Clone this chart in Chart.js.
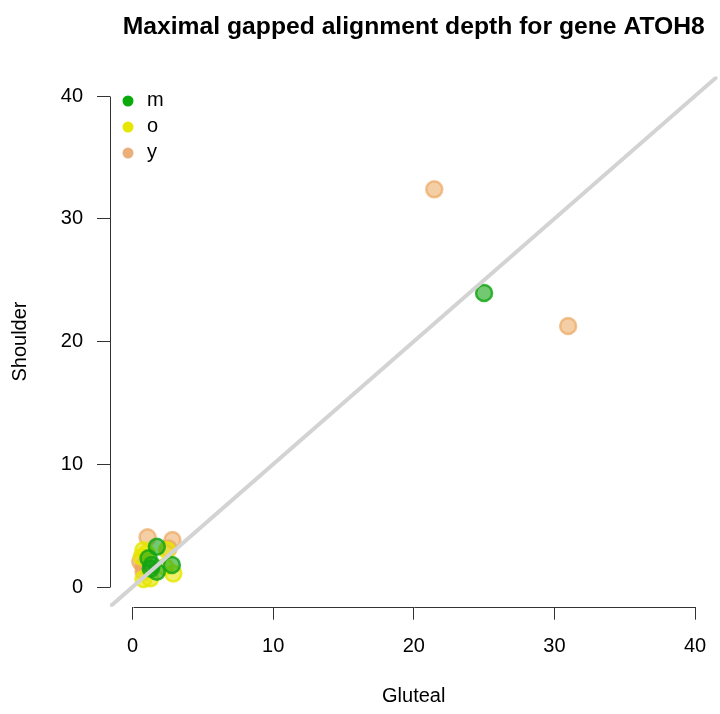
<!DOCTYPE html>
<html>
<head>
<meta charset="utf-8">
<script src="https://cdn.jsdelivr.net/npm/chart.js@4.4.1/dist/chart.umd.min.js"></script>
<style>
html,body{margin:0;padding:0;background:#fff;}
#wrap{width:720px;height:714px;}
</style>
</head>
<body>
<div id="wrap"><canvas id="c" width="720" height="714"></canvas></div>
<script>
// ---- data ----
const groups = ["m", "o", "y"];
const mGluteal   = [25.0, 1.73, 1.14, 1.37, 2.8, 1.73, 1.3];
const mShoulder  = [23.95, 3.28, 2.34, 1.79, 1.8, 1.25, 1.5];
const oGluteal   = [0.78, 0.66, 2.9, 2.32, 0.78, 1.26, 1.0, 2.45];
const oShoulder  = [3.0, 2.47, 1.1, 1.65, 0.65, 0.71, 2.75, 3.0];
const yGluteal   = [21.46, 30.98, 1.07, 2.84, 2.56, 0.55, 0.78, 0.78];
const yShoulder  = [32.4, 21.26, 4.05, 3.83, 3.15, 2.06, 1.25, 1.7];
const tickValues = [0, 10, 20, 30, 40];
const identityLine = [-5, 50];
const titleText = "Maximal gapped alignment depth for gene ATOH8";
const xTitle = "Gluteal";
const yTitle = "Shoulder";

const legendColors = ["rgb(10,170,10)", "rgb(230,230,0)", "rgb(235,176,122)"];
const fillColors = ["rgba(20,165,20,0.6)", "rgba(230,230,0,0.6)", "rgba(235,165,90,0.55)"];
const borderColors = ["rgba(20,165,20,0.82)", "rgba(230,230,0,0.8)", "rgba(235,165,90,0.65)"];

const pts = (xs, ys) => xs.map((x, i) => ({x: x, y: ys[i]}));
const FONT = "'Liberation Sans', Arial, Helvetica, sans-serif";

const axisLines = {
  id: 'axisLines',
  afterDraw(chart) {
    const ctx = chart.ctx, xs = chart.scales.x, ys = chart.scales.y, ca = chart.chartArea;
    ctx.save();
    ctx.strokeStyle = '#333';
    ctx.lineWidth = 1;
    const first = tickValues[0], last = tickValues[tickValues.length - 1];
    const yb = Math.round(ca.bottom) + 0.5;
    ctx.beginPath();
    ctx.moveTo(Math.round(xs.getPixelForValue(first)) + 0.5, yb);
    ctx.lineTo(Math.round(xs.getPixelForValue(last)) + 0.5, yb);
    ctx.stroke();
    const xl = Math.round(ca.left) + 0.5;
    ctx.beginPath();
    ctx.moveTo(xl, Math.round(ys.getPixelForValue(first)) + 0.5);
    ctx.lineTo(xl, Math.round(ys.getPixelForValue(last)) + 0.5);
    ctx.stroke();
    // title
    ctx.fillStyle = '#000';
    ctx.font = "bold 24.7px " + FONT;
    ctx.textAlign = 'center';
    ctx.textBaseline = 'alphabetic';
    ctx.fillText(titleText, (ca.left + ca.right) / 2, 34);
    // legend
    ctx.font = "20px " + FONT;
    ctx.textAlign = 'left';
    ctx.textBaseline = 'middle';
    groups.forEach((g, i) => {
      const cy = 101 + i * 26;
      ctx.beginPath();
      ctx.arc(128, cy, 5.5, 0, Math.PI * 2);
      ctx.fillStyle = legendColors[i];
      ctx.fill();
      ctx.fillStyle = '#000';
      ctx.fillText(g, 147, cy - 1);
    });
    ctx.restore();
  }
};

const scaleCommon = (titleTxt, padTitle) => ({
  type: 'linear',
  min: -1.6,
  max: 41.6,
  afterBuildTicks(s) { s.ticks = tickValues.map(v => ({value: v})); },
  grid: { drawOnChartArea: false, drawTicks: true, tickLength: 13, color: '#333', lineWidth: 1 },
  border: { display: false },
  ticks: { color: '#000', font: { family: FONT, size: 20 }, padding: 15, maxRotation: 0, autoSkip: false,
           callback: v => String(v) },
  title: { display: true, text: titleTxt, color: '#000', font: { family: FONT, size: 20 }, padding: padTitle }
});

const xScale = scaleCommon(xTitle, {top: 0, bottom: 6});
xScale.afterFit = s => { s.height = 107.3; s.paddingLeft = 0; s.paddingRight = 0; };
const yScale = scaleCommon(yTitle, {top: 8, bottom: 0});
yScale.ticks.padding = 14;
yScale.afterFit = s => { s.width = 110; s.paddingTop = 0; s.paddingBottom = 0; };

new Chart(document.getElementById('c'), {
  type: 'scatter',
  data: {
    datasets: [
      { label: 'identity', type: 'line', data: pts(identityLine, identityLine), borderColor: 'rgb(211,211,211)',
        borderWidth: 4, pointRadius: 0, fill: false, order: 1 },
      { label: groups[0], data: pts(mGluteal, mShoulder), backgroundColor: fillColors[0], borderColor: borderColors[0],
        borderWidth: 2.5, pointRadius: 8, order: 2 },
      { label: groups[1], data: pts(oGluteal, oShoulder), backgroundColor: fillColors[1], borderColor: borderColors[1],
        borderWidth: 2.5, pointRadius: 8, order: 3 },
      { label: groups[2], data: pts(yGluteal, yShoulder), backgroundColor: fillColors[2], borderColor: borderColors[2],
        borderWidth: 2.5, pointRadius: 8, order: 4 }
    ]
  },
  options: {
    responsive: false,
    animation: false,
    events: [],
    layout: { autoPadding: false, padding: { top: 76.4, right: 2.5, bottom: 0, left: 0 } },
    plugins: { legend: { display: false }, title: { display: false }, tooltip: { enabled: false } },
    scales: { x: xScale, y: yScale }
  },
  plugins: [axisLines]
});
</script>
</body>
</html>
